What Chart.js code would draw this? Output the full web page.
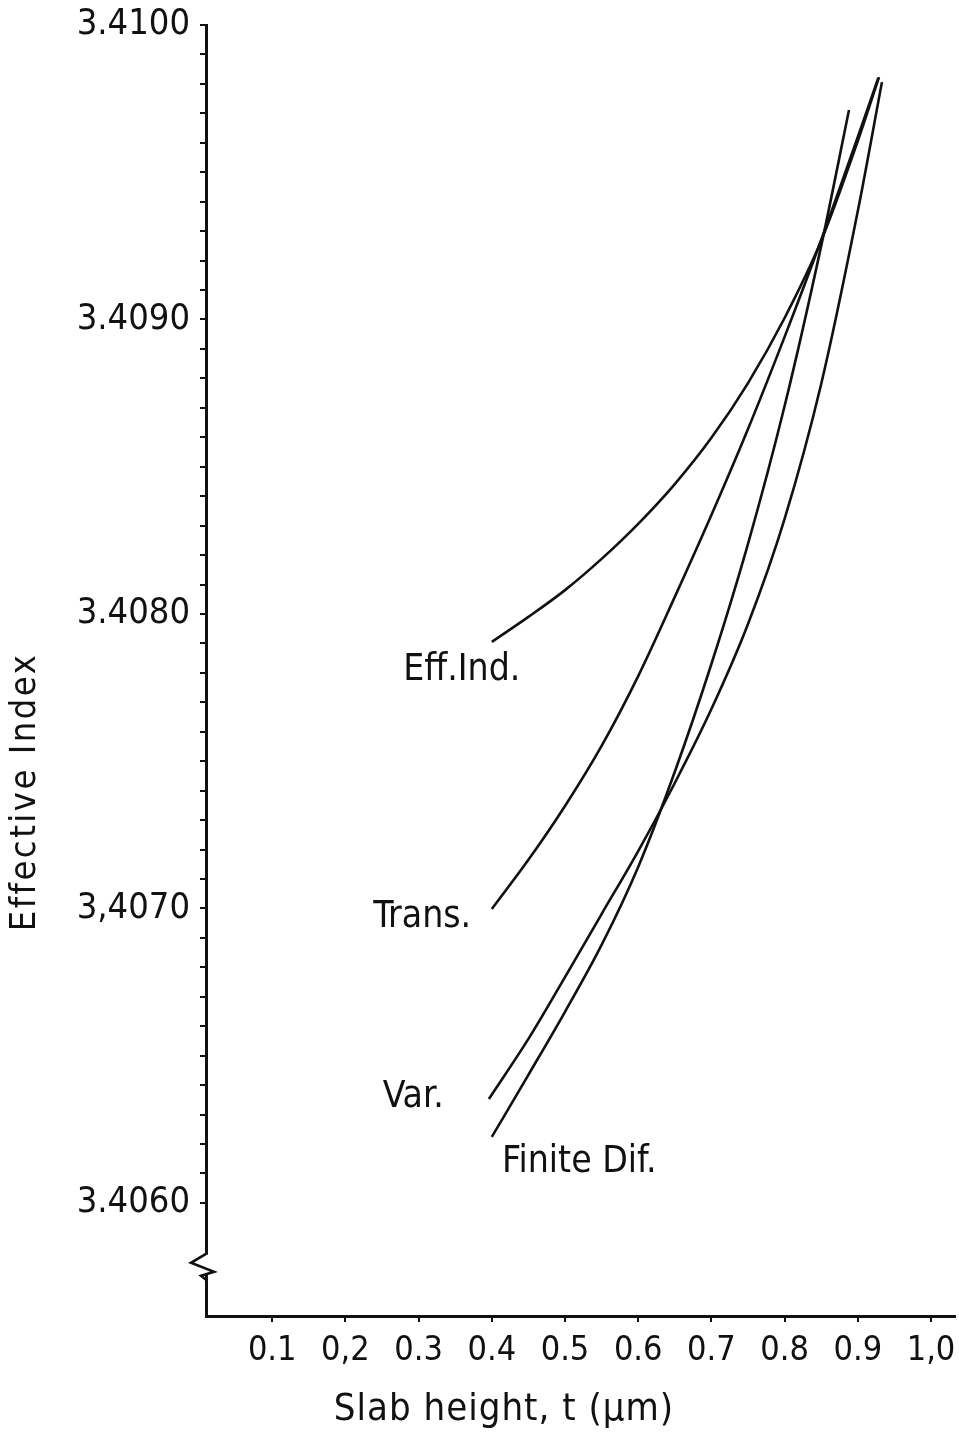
<!DOCTYPE html>
<html>
<head>
<meta charset="utf-8">
<title>Effective index vs slab height</title>
<script src="https://cdn.jsdelivr.net/npm/chart.js@4.4.1/dist/chart.umd.min.js"></script>
<style>
  html, body { margin: 0; padding: 0; background: #fff; }
  #wrap { width: 959px; height: 1436px; }
</style>
</head>
<body>
<div id="wrap"><canvas id="plot" width="959" height="1436"></canvas></div>
<script>
// slab height t (um) and effective index, one pair of arrays per method
const tEff   = [0.40, 0.45, 0.50, 0.55, 0.60, 0.65, 0.70, 0.75, 0.80, 0.85, 0.90, 0.929];
const nEff   = [3.407905, 3.407990, 3.408081, 3.408187, 3.408306, 3.408441, 3.408598, 3.408784, 3.409005, 3.409267, 3.409606, 3.409823];

const tTrans = [0.40, 0.45, 0.50, 0.55, 0.60, 0.65, 0.70, 0.75, 0.80, 0.85, 0.90, 0.928];
const nTrans = [3.406998, 3.407165, 3.407348, 3.407552, 3.407789, 3.408058, 3.408336, 3.408628, 3.408941, 3.409270, 3.409620, 3.409820];

const tVar   = [0.396, 0.45, 0.50, 0.55, 0.60, 0.65, 0.70, 0.75, 0.80, 0.85, 0.90, 0.933];
const nVar   = [3.406353, 3.406557, 3.406767, 3.406981, 3.407195, 3.407426, 3.407677, 3.407966, 3.408323, 3.408781, 3.409368, 3.409806];

const tFd    = [0.40, 0.45, 0.50, 0.55, 0.60, 0.65, 0.70, 0.75, 0.80, 0.85, 0.888];
const nFd    = [3.406224, 3.406435, 3.406649, 3.406876, 3.407141, 3.407464, 3.407830, 3.408238, 3.408706, 3.409250, 3.409711];

const curveNames  = ['Eff.Ind.', 'Trans.', 'Var.', 'Finite Dif.'];

const xTickValues = [0.1, 0.2, 0.3, 0.4, 0.5, 0.6, 0.7, 0.8, 0.9, 1.0];
const xTickLabels = ['0.1', '0,2', '0.3', '0.4', '0.5', '0.6', '0.7', '0.8', '0.9', '1,0'];
const yTickValues = [3.406, 3.407, 3.408, 3.409, 3.410];
const yTickLabels = ['3.4060', '3,4070', '3.4080', '3.4090', '3.4100'];

const xTitle = 'Slab height, t (\u03bcm)';
const yTitle = 'Effective Index';

const INK = '#111';
const NARROW = '"Liberation Sans Narrow", "DejaVu Sans Condensed", "DejaVu Sans", sans-serif';

function pts(ts, ns) {
  return ts.map((t, i) => ({ x: t, y: ns[i] }));
}

const series = [[tEff, nEff], [tTrans, nTrans], [tVar, nVar], [tFd, nFd]];

const datasets = series.map((s, i) => ({
  label: curveNames[i],
  data: pts(s[0], s[1]),
  showLine: true,
  borderColor: INK,
  borderWidth: 2.6,
  pointRadius: 0,
  cubicInterpolationMode: 'monotone',
  fill: false
}));

// where each curve name is written (left edge, vertical middle), in data units
const labelAt = [
  [0.279, 3.407810],
  [0.238, 3.406971],
  [0.251, 3.406357],
  [0.414, 3.406136]
];

// minor ticks every 0.0001 between 3.4060 and 3.4100
const yMinor = [];
for (let k = 0; k <= 40; k++) yMinor.push(Math.round((3.406 + k * 0.0001) * 1e5) / 1e5);

const extras = {
  id: 'extras',
  afterDraw(chart) {
    const ctx = chart.ctx;
    const xs = chart.scales.x, ys = chart.scales.y;
    const ax = chart.chartArea.left;

    // axis break just above the origin
    const yb = ys.getPixelForValue(3.40579);
    ctx.save();
    ctx.fillStyle = '#fff';
    ctx.fillRect(ax - 4, yb - 10, 8, 20);
    ctx.strokeStyle = INK;
    ctx.lineWidth = 2.6;
    ctx.lineJoin = 'miter';
    ctx.beginPath();
    ctx.moveTo(ax, yb - 11);
    ctx.lineTo(ax - 15, yb - 2);
    ctx.lineTo(ax + 8, yb + 7);
    ctx.lineTo(ax - 5, yb + 11);
    ctx.lineTo(ax, yb + 15);
    ctx.stroke();

    // curve names
    ctx.fillStyle = INK;
    ctx.font = '37px ' + NARROW;
    ctx.textAlign = 'left';
    ctx.textBaseline = 'middle';
    curveNames.forEach((name, i) => {
      ctx.fillText(name, xs.getPixelForValue(labelAt[i][0]), ys.getPixelForValue(labelAt[i][1]));
    });

    // axis titles
    ctx.textAlign = 'center';
    ctx.font = '38px ' + NARROW;
    ctx.letterSpacing = '1px';
    ctx.fillText(xTitle, 504, 1410);
    ctx.font = '36px ' + NARROW;
    ctx.letterSpacing = '2.5px';
    ctx.translate(26, 792);
    ctx.rotate(-Math.PI / 2);
    ctx.fillText(yTitle, 0, 0);
    ctx.restore();
  }
};

new Chart(document.getElementById('plot'), {
  type: 'scatter',
  data: { datasets },
  options: {
    responsive: false,
    animation: false,
    devicePixelRatio: 1,
    layout: { padding: { top: 25, right: 4, left: 0, bottom: 0 } },
    plugins: { legend: { display: false }, tooltip: { enabled: false } },
    scales: {
      x: {
        type: 'linear',
        min: 0.00956,
        max: 1.03279,
        afterBuildTicks: s => { s.ticks = xTickValues.map(v => ({ value: v })); },
        afterFit: s => { s.height = 120; s.paddingLeft = 0; s.paddingRight = 0; },
        ticks: {
          autoSkip: false,
          maxRotation: 0,
          padding: 9,
          color: INK,
          font: { family: NARROW, size: 34 },
          callback: (v, i) => xTickLabels[i]
        },
        grid: { display: true, drawOnChartArea: false, drawTicks: true, tickLength: 6, color: INK, lineWidth: 2 },
        border: { display: true, color: INK, width: 3 }
      },
      y: {
        type: 'linear',
        min: 3.405616,
        max: 3.4100,
        afterBuildTicks: s => { s.ticks = yMinor.map(v => ({ value: v })); },
        afterFit: s => { s.width = 206; s.paddingTop = 0; s.paddingBottom = 0; },
        ticks: {
          autoSkip: false,
          padding: 10,
          color: INK,
          font: { family: NARROW, size: 36 },
          callback: v => {
            const k = yTickValues.findIndex(t => Math.abs(t - v) < 1e-7);
            return k < 0 ? '' : yTickLabels[k];
          }
        },
        grid: { display: true, drawOnChartArea: false, drawTicks: true, tickLength: 6, color: INK, lineWidth: 2 },
        border: { display: true, color: INK, width: 3 }
      }
    }
  },
  plugins: [extras]
});
</script>
</body>
</html>
